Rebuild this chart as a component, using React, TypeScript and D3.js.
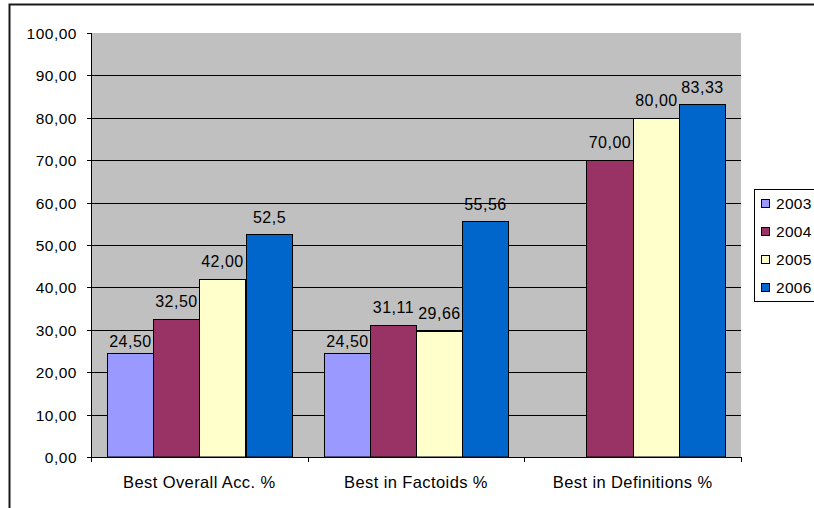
import React, { useEffect, useRef } from 'react';
import * as d3 from 'd3';

const categories = ['Best Overall Acc. %', 'Best in Factoids %', 'Best in Definitions %'];
const years = ['2003', '2004', '2005', '2006'];
const colors = ['#9999FF', '#993366', '#FFFFCC', '#0066CC'];
// one array per year, null = no bar
const v2003 = [24.5, 24.5, null];
const v2004 = [32.5, 31.11, 70.0];
const v2005 = [42.0, 29.66, 80.0];
const v2006 = [52.5, 55.56, 83.33];
const labels2006 = ['52,5', '55,56', '83,33'];
const yTicks = [0, 10, 20, 30, 40, 50, 60, 70, 80, 90, 100];

const series = [v2003, v2004, v2005, v2006];

const fmt = (v: number) => v.toFixed(2).replace('.', ',');

export default function App() {
  const svgRef = useRef<SVGSVGElement | null>(null);

  useEffect(() => {
    if (!svgRef.current) return;
    const width = 814;
    const height = 508;
    const plot = { left: 91, right: 741, top: 33, bottom: 457 };
    const font = 'Arial, "Liberation Sans", sans-serif';
    // label gap above bar top, per series (Excel placed them a bit unevenly)
    const labelGap = [7, 13, 13, 12];

    const svg = d3.select(svgRef.current);
    svg.selectAll('*').remove();
    svg.attr('width', width).attr('height', height);

    svg.append('rect').attr('width', width).attr('height', height).attr('fill', '#fff');
    // outer chart border (runs off the right / bottom edge)
    svg
      .append('rect')
      .attr('x', 9.5)
      .attr('y', 4.5)
      .attr('width', 900)
      .attr('height', 600)
      .attr('fill', 'none')
      .attr('stroke', '#1a1a1a')
      .attr('stroke-width', 2);

    const x0 = d3.scaleBand().domain(categories).range([plot.left, plot.right]).paddingInner(0).paddingOuter(0);
    const y = d3.scaleLinear().domain([0, 100]).range([plot.bottom, plot.top]);
    const gap = 16;
    const x1 = d3
      .scaleBand()
      .domain(years)
      .range([gap, x0.bandwidth() - gap])
      .paddingInner(0)
      .paddingOuter(0);

    // plot background
    svg
      .append('rect')
      .attr('x', plot.left)
      .attr('y', plot.top)
      .attr('width', plot.right - plot.left)
      .attr('height', plot.bottom - plot.top)
      .attr('fill', '#C0C0C0');

    // gridlines
    svg
      .append('g')
      .selectAll('line')
      .data(yTicks.filter((t) => t > 0 && t < 100))
      .enter()
      .append('line')
      .attr('x1', plot.left)
      .attr('x2', plot.right)
      .attr('y1', (d) => Math.round(y(d)) + 0.5)
      .attr('y2', (d) => Math.round(y(d)) + 0.5)
      .attr('stroke', '#000')
      .attr('stroke-width', 1);

    // bars
    series.forEach((vals, si) => {
      const g = svg.append('g');
      categories.forEach((c, ci) => {
        const v = vals[ci];
        if (v == null) return;
        const left = Math.round((x0(c) || 0) + (x1(years[si]) || 0));
        const right = Math.round((x0(c) || 0) + (x1(years[si]) || 0) + x1.bandwidth());
        const bx = left + 0.5;
        const bw = right - left;
        const by = Math.round(y(v)) + 0.5;
        g.append('rect')
          .attr('x', bx)
          .attr('y', by)
          .attr('width', bw)
          .attr('height', plot.bottom - by)
          .attr('fill', colors[si])
          .attr('stroke', '#000')
          .attr('stroke-width', 1);
        g.append('text')
          .attr('x', bx + bw / 2)
          .attr('y', by - labelGap[si])
          .attr('text-anchor', 'middle')
          .attr('font-family', font)
          .attr('font-size', 16)
          .attr('letter-spacing', 0.5)
          .attr('fill', '#000')
          .text(si === 3 ? labels2006[ci] : fmt(v));
      });
    });

    // y axis
    const yAxis = svg.append('g');
    yAxis
      .append('line')
      .attr('x1', plot.left + 0.5)
      .attr('x2', plot.left + 0.5)
      .attr('y1', plot.top)
      .attr('y2', plot.bottom)
      .attr('stroke', '#000');
    yTicks.forEach((t) => {
      const ty = Math.round(y(t)) + 0.5;
      yAxis
        .append('line')
        .attr('x1', plot.left - 4)
        .attr('x2', plot.left)
        .attr('y1', ty)
        .attr('y2', ty)
        .attr('stroke', '#000');
      yAxis
        .append('text')
        .attr('x', 77)
        .attr('y', ty + 5.5)
        .attr('text-anchor', 'end')
        .attr('font-family', font)
        .attr('font-size', 15.5)
        .attr('letter-spacing', 0.5)
        .attr('fill', '#000')
        .text(fmt(t));
    });

    // x axis
    const xAxis = svg.append('g');
    xAxis
      .append('line')
      .attr('x1', plot.left)
      .attr('x2', plot.right)
      .attr('y1', plot.bottom + 0.5)
      .attr('y2', plot.bottom + 0.5)
      .attr('stroke', '#000');
    [...categories.map((c) => x0(c) || 0), plot.right].forEach((tx) => {
      xAxis
        .append('line')
        .attr('x1', Math.round(tx) + 0.5)
        .attr('x2', Math.round(tx) + 0.5)
        .attr('y1', plot.bottom)
        .attr('y2', plot.bottom + 5)
        .attr('stroke', '#000');
    });
    categories.forEach((c) => {
      xAxis
        .append('text')
        .attr('x', (x0(c) || 0) + x0.bandwidth() / 2)
        .attr('y', 488)
        .attr('text-anchor', 'middle')
        .attr('font-family', font)
        .attr('font-size', 16.5)
        .attr('letter-spacing', 0.4)
        .attr('fill', '#000')
        .text(c);
    });

    // legend
    const legend = svg.append('g');
    legend
      .append('rect')
      .attr('x', 754.5)
      .attr('y', 189.5)
      .attr('width', 100)
      .attr('height', 112)
      .attr('fill', '#fff')
      .attr('stroke', '#000');
    years.forEach((yr, i) => {
      const cy = 203 + i * 28.3;
      legend
        .append('rect')
        .attr('x', 761.5)
        .attr('y', Math.round(cy - 4.5) + 0.5)
        .attr('width', 8)
        .attr('height', 8)
        .attr('fill', colors[i])
        .attr('stroke', '#000');
      legend
        .append('text')
        .attr('x', 776)
        .attr('y', cy + 5.5)
        .attr('font-family', font)
        .attr('font-size', 15.5)
        .attr('letter-spacing', 0.3)
        .attr('fill', '#000')
        .text(yr);
    });
  }, []);

  return (
    <div style={{ position: 'absolute', left: 0, top: 0, width: 814, height: 508, overflow: 'hidden' }}>
      <svg ref={svgRef} style={{ display: 'block' }} />
    </div>
  );
}
